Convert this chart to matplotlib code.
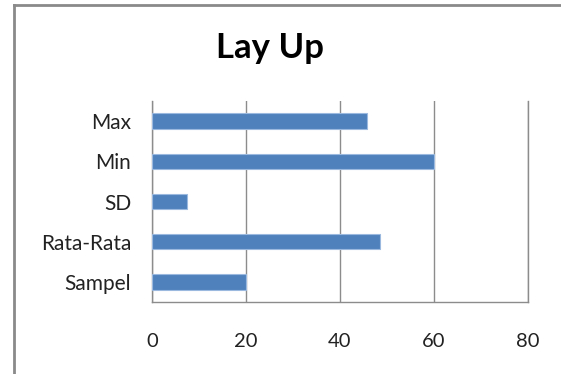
import matplotlib
matplotlib.use("Agg")
import matplotlib.pyplot as plt
from matplotlib.lines import Line2D

categories = ["Sampel", "Rata-Rata", "SD", "Min", "Max"]
values = [20, 48.6, 7.5, 60, 45.8]
x_ticks = [0, 20, 40, 60, 80]

plt.rcParams['font.family'] = ['Lato', 'DejaVu Sans']

fig = plt.figure(figsize=(5.61, 3.74), dpi=100)
ax = fig.add_axes([152/561, 1-302/374, (528-152)/561, (302-101)/374])

ypos = range(len(categories))
ax.barh(ypos, values, height=0.38, color="#4F81BD", edgecolor="#9BB9DE",
        linewidth=0.8, zorder=3)

ax.set_xlim(0, 80)
ax.set_ylim(-0.5, len(categories) - 0.5)
ax.set_xticks(x_ticks)
ax.set_xticklabels([str(t) for t in x_ticks], fontsize=14.5, color="#222222")
ax.set_yticks(list(ypos))
ax.set_yticklabels(categories, fontsize=15, color="#222222")
ax.tick_params(axis="x", length=0, pad=22)
ax.tick_params(axis="y", length=0, pad=15)

ax.grid(axis="x", color="#8C8C8C", linewidth=1.0, zorder=0)
ax.grid(axis="y", visible=False)
ax.spines["top"].set_visible(False)
for side in ["left", "bottom", "right"]:
    ax.spines[side].set_color("#8C8C8C")
    ax.spines[side].set_linewidth(1.0)

fig.text(270/561, 1-48/374, "Lay Up", ha="center", va="center",
         fontsize=25, fontweight="bold", color="#000000")

# chart-area frame: left and top edges
fig.add_artist(Line2D([14/561, 14/561], [0, 1-4.5/374], transform=fig.transFigure,
                      color="#8A8A8A", linewidth=2))
fig.add_artist(Line2D([14/561, 1], [1-4.5/374, 1-4.5/374], transform=fig.transFigure,
                      color="#8A8A8A", linewidth=2))

fig.savefig("out.png", dpi=100, facecolor="white")
